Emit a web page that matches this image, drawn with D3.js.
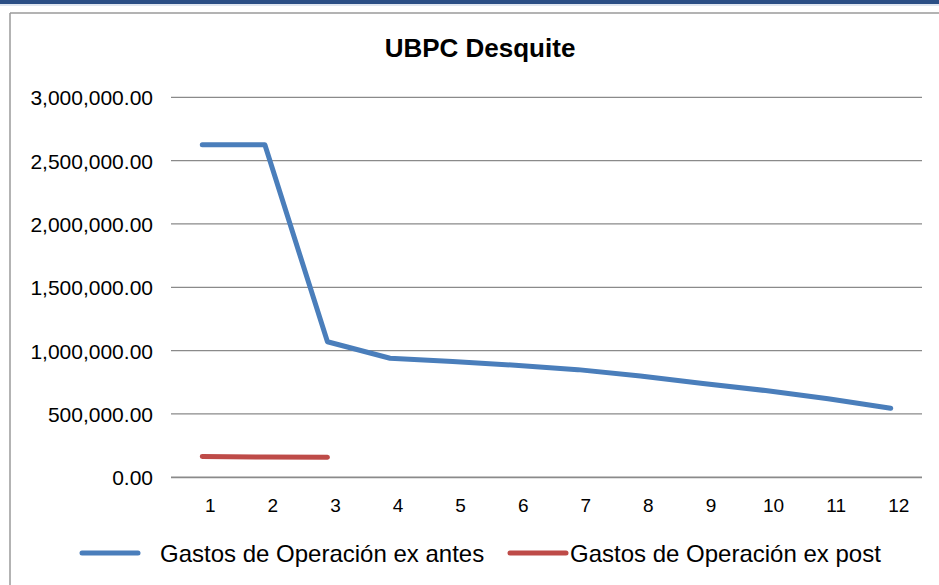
<!DOCTYPE html>
<html>
<head>
<meta charset="utf-8">
<script src="https://cdn.jsdelivr.net/npm/d3@7"></script>
<style>
  body { margin: 0; background: #fff; }
  text { font-family: Arial, "Liberation Sans", sans-serif; fill: #000; }
</style>
</head>
<body>
<div id="chart"></div>
<script>
// chart data
var months = ["1", "2", "3", "4", "5", "6", "7", "8", "9", "10", "11", "12"]
var exAntes = [2625000, 2625000, 1070000, 940000, 915000, 885000, 850000, 800000, 740000, 685000, 620000, 545000]
var exPost = [165000, 160000, 158000]
var yTicks = [0, 500000, 1000000, 1500000, 2000000, 2500000, 3000000]
var seriesNames = ["Gastos de Operación ex antes", "Gastos de Operación ex post"]
var seriesColors = ["#4a7ebb", "#be4b48"]

var width = 939, height = 585

var svg = d3.select("#chart")
    .append("svg")
    .attr("width", width)
    .attr("height", height)

// top bar + frame
svg.append("rect")
    .attr("x", 0).attr("y", 0)
    .attr("width", width).attr("height", 4)
    .attr("fill", "#2b4f85")
svg.append("rect")
    .attr("x", 0).attr("y", 4)
    .attr("width", width).attr("height", 2)
    .attr("fill", "#dfe6f0")
svg.append("line")
    .attr("x1", 10).attr("x2", width)
    .attr("y1", 13).attr("y2", 13)
    .attr("stroke", "#9a9a9a").attr("stroke-width", 1.5)
svg.append("line")
    .attr("x1", 10).attr("x2", 10)
    .attr("y1", 13).attr("y2", height)
    .attr("stroke", "#9a9a9a").attr("stroke-width", 1.5)

var x = d3.scalePoint()
    .domain(months)
    .range([171, 922])
    .padding(0.5)

var y = d3.scaleLinear()
    .domain([0, 3000000])
    .range([477.3, 97.3])

// gridlines
svg.append("g")
    .selectAll("line")
    .data(yTicks)
    .enter().append("line")
    .attr("x1", 171).attr("x2", 922)
    .attr("y1", d => y(d)).attr("y2", d => y(d))
    .attr("stroke", "#8a8a8a")
    .attr("stroke-width", d => d === 0 ? 1.8 : 1.3)

// y labels
var fmt = d3.format(",.2f")
svg.append("g")
    .selectAll("text")
    .data(yTicks)
    .enter().append("text")
    .attr("x", 153)
    .attr("y", d => y(d))
    .attr("dy", "0.38em")
    .attr("text-anchor", "end")
    .style("font-size", "21px")
    .text(d => fmt(d))

// x labels (sit a bit right of the points in the original)
svg.append("g")
    .selectAll("text")
    .data(months)
    .enter().append("text")
    .attr("x", d => x(d))
    .attr("dx", 8)
    .attr("y", 512)
    .attr("text-anchor", "middle")
    .style("font-size", "19px")
    .text(d => d)

var line = d3.line()
    .x((d, i) => x(months[i]))
    .y(d => y(d))

svg.append("path")
    .datum(exAntes)
    .attr("fill", "none")
    .attr("stroke", seriesColors[0])
    .attr("stroke-width", 5)
    .attr("stroke-linecap", "round")
    .attr("stroke-linejoin", "round")
    .attr("d", line)

svg.append("path")
    .datum(exPost)
    .attr("fill", "none")
    .attr("stroke", seriesColors[1])
    .attr("stroke-width", 5)
    .attr("stroke-linecap", "round")
    .attr("stroke-linejoin", "round")
    .attr("d", line)

// title
svg.append("text")
    .attr("x", 480)
    .attr("y", 57)
    .attr("text-anchor", "middle")
    .style("font-size", "26px")
    .style("font-weight", "bold")
    .text("UBPC Desquite")

// legend
var legendX = [82, 510]
var legend = svg.append("g")
    .selectAll("g")
    .data(seriesNames)
    .enter().append("g")
    .attr("transform", (d, i) => "translate(" + legendX[i] + ",553)")

legend.append("line")
    .attr("x1", 0).attr("x2", 56)
    .attr("y1", 0).attr("y2", 0)
    .attr("stroke", (d, i) => seriesColors[i])
    .attr("stroke-width", 5)
    .attr("stroke-linecap", "round")

legend.append("text")
    .attr("x", (d, i) => i === 0 ? 78 : 60)
    .attr("y", 9)
    .style("font-size", "24px")
    .text(d => d)
</script>
</body>
</html>
